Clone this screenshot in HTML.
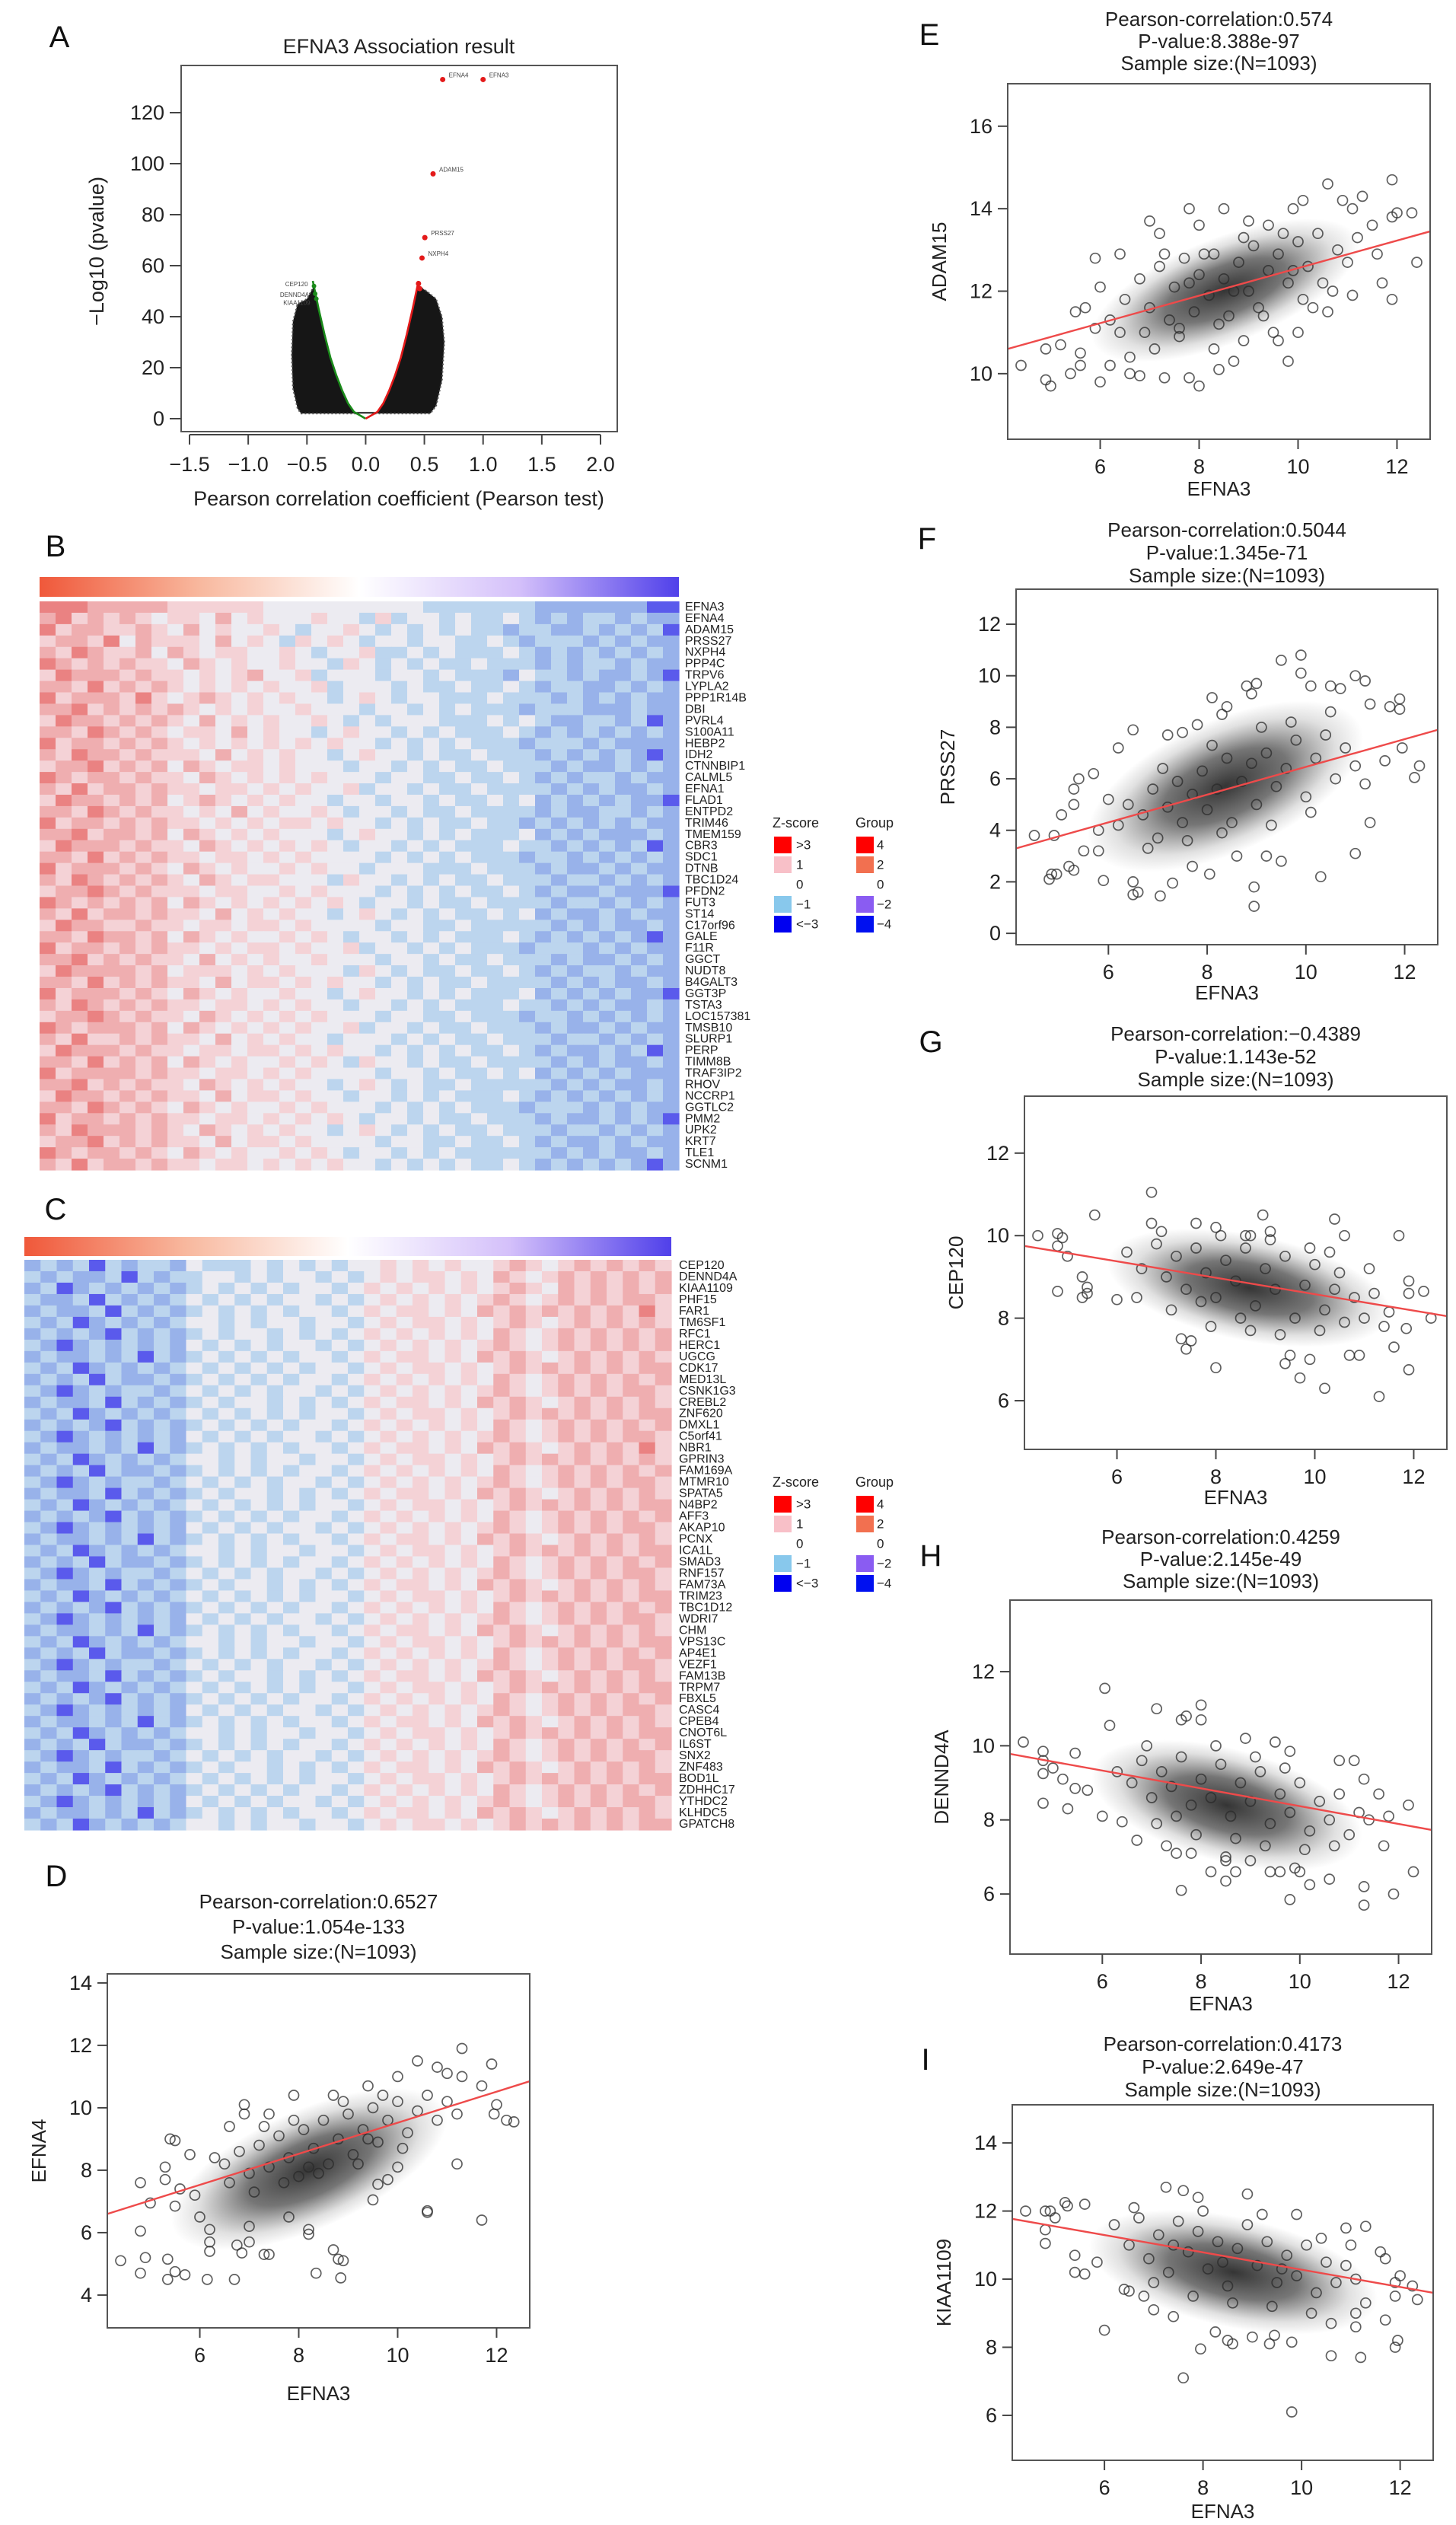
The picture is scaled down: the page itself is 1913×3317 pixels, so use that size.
<!DOCTYPE html>
<html><head><meta charset="utf-8">
<style>
html,body{margin:0;padding:0;background:#fff;}
svg{display:block;font-family:"Liberation Sans",Arial,sans-serif;}
</style></head>
<body>
<svg id="fig" width="1913" height="3317" viewBox="0 0 1913 3317" xmlns="http://www.w3.org/2000/svg">
<defs>
<radialGradient id="dens" cx="50%" cy="50%" r="50%">
<stop offset="0%" stop-color="#111" stop-opacity="0.85"/>
<stop offset="45%" stop-color="#1a1a1a" stop-opacity="0.6"/>
<stop offset="80%" stop-color="#333" stop-opacity="0.15"/>
<stop offset="100%" stop-color="#333" stop-opacity="0"/>
</radialGradient>
<linearGradient id="grpB" x1="0" x2="1" y1="0" y2="0">
<stop offset="0%" stop-color="#f0583a"/><stop offset="25%" stop-color="#f8b89e"/><stop offset="50%" stop-color="#ffffff"/><stop offset="75%" stop-color="#d4c0fa"/><stop offset="100%" stop-color="#5040ea"/>
</linearGradient>
</defs>
<g id="root"></g>
</svg>
<script>
// ---------- Panel A (volcano) data ----------
const V_XTICKS=[-1.5,-1.0,-0.5,0.0,0.5,1.0,1.5,2.0];
const V_YTICKS=[0,20,40,60,80,100,120];
const V_CURVE_R=[0.1,0.15,0.2,0.25,0.3,0.35,0.4,0.45];
const V_CURVE_P=[2.7,6,11,17,24,33,43,54];
const V_LEFT_OUTER=[[-0.44,52],[-0.5,47],[-0.58,45],[-0.62,38],[-0.63,25],[-0.62,12],[-0.58,4],[-0.55,2]];
const V_RIGHT_OUTER=[[0.45,52],[0.52,50],[0.6,47],[0.65,40],[0.67,30],[0.65,15],[0.6,5],[0.55,2]];
const V_RED_R=[0.656,1.0,0.574,0.504,0.48,0.45,0.46];
const V_RED_P=[133,133,96,71,63,53,51];
const V_RED_LBL=["EFNA4","EFNA3","ADAM15","PRSS27","NXPH4","",""];
const V_GREEN_R=[-0.44,-0.43,-0.42];
const V_GREEN_P=[52,49,47];
const V_GREEN_LBL=["CEP120","DENND4A","KIAA1109"];

// ---------- Heatmap data ----------
const B_GENES=["EFNA3","EFNA4","ADAM15","PRSS27","NXPH4","PPP4C","TRPV6","LYPLA2","PPP1R14B","DBI","PVRL4","S100A11","HEBP2","IDH2","CTNNBIP1","CALML5","EFNA1","FLAD1","ENTPD2","TRIM46","TMEM159","CBR3","SDC1","DTNB","TBC1D24","PFDN2","FUT3","ST14","C17orf96","GALE","F11R","GGCT","NUDT8","B4GALT3","GGT3P","TSTA3","LOC157381","TMSB10","SLURP1","PERP","TIMM8B","TRAF3IP2","RHOV","NCCRP1","GGTLC2","PMM2","UPK2","KRT7","TLE1","SCNM1"];
const B_ROWS=["7776666655555544444444443333333222222211","6756565455464544454435344343343232332322","7566556546454454344543434343323322323231","5665746555464543545434434433432333232322","6576556465455445434453343433343232323232","7656565546545445443543434334333232332322","5766656554545644534443443433324332322321","6657565654545454453444343343343233223232","7566657545654545443454344333433323232322","6675656565454544544434434343332333222322","5766565654645454454343444333434322332312","6657656545546454434544343433343232323232","7566565654545454545443434343332333232222","6576656555464545443454434334333232323212","5667565646545545444344343433433323223232","7656656554654545454443443343343232332322","6575665655455454544534434334333323232232","5766565645654545443443443433434232323221","6657656554546454454344343343333232233232","7566565655454545545443434334332323232322","6675665646545454443454434343334232322232","5766656554654545454344343433343323232312","6657565655455454544443434343332332323232","7566656546545445454434443334333232232322","6576565654654554443544343433433323323232","5667656555455445454443434343343232232221","7656565646545454545434434334333323323232","6575665655464545443454343433434232232322","5766556554554554544443443343333323232232","6657665646545445454344343433343232323212","7566565655454554544534434343332333232322","6675656554645454454443443433433323223232","5766665645554545444354343343343232332322","6657565655464554545443434334333323232232","7566656546545445443454434343334232323221","6576565655455454544344343433343323232232","5667656554654545454443443343332332323232","7656665646545454544534434334333232232322","6575565655464545443444343433433323323232","5766656554554554545443434343343232232312","6657565646545445454354434334333323232232","7566665655455454544443443433434232323222","6675656554654545443454343343333323232232","5766565655464554544344343433343232323232","6657656546545445454443434343332333232322","7566565655455454545434434334333232232321","6576665654654545443454343433433323323232","5667565655464554544443443343343232232322","7656656546545445454344343433333323232232","6575665655455454545443434343343232323212"];
const C_GENES=["CEP120","DENND4A","KIAA1109","PHF15","FAR1","TM6SF1","RFC1","HERC1","UGCG","CDK17","MED13L","CSNK1G3","CREBL2","ZNF620","DMXL1","C5orf41","NBR1","GPRIN3","FAM169A","MTMR10","SPATA5","N4BP2","AFF3","AKAP10","PCNX","ICA1L","SMAD3","RNF157","FAM73A","TRIM23","TBC1D12","WDRI7","CHM","VPS13C","AP4E1","VEZF1","FAM13B","TRPM7","FBXL5","CASC4","CPEB4","CNOT6L","IL6ST","SNX2","ZNF483","BOD1L","ZDHHC17","YTHDC2","KLHDC5","GPATCH8"];
const C_ROWS=["2323132332433343434344545454456545656565","3232231323344343443434545545465456565656","2312323232343434344345454545456546565656","3223132323434343443434545454565456565665","2322313232343434344345455454656565656575","3231232323443434434434545545456545656565","2323213232343443434345454545465456565656","3212323232434343443434545454565456565656","2322323132343434344345455454656545656565","3231232323434343434434545545456565656566","2323132232343434344345454545465456565656","3212323323434343443434545454565456565665","2322313232343443434345455454656545656565","3231232323434343434434545545456565656566","2323213232343434344345454545465456565656","3212323232434343443434545454565456565665","2322323132343434344345455454656545656575","3231232323443434434434545545456565656565","2323132232343434344345454545465456565656","3212323323434343443434545454565456565665","2322313232343443434345455454656545656565","3231232323434343434434545545456565656566","2323213232343434344345454545465456565656","3212323232434343443434545454565456565665","2322323132343434344345455454656545656565","3231232323443434434434545545456565656566","2323132232343434344345454545465456565656","3212323323434343443434545454565456565665","2322313232343443434345455454656545656565","3231232323434343434434545545456565656566","2323213232343434344345454545465456565656","3212323232434343443434545454565456565665","2322323132343434344345455454656545656565","3231232323443434434434545545456565656566","2323132232343434344345454545465456565656","3212323323434343443434545454565456565665","2322313232343443434345455454656545656565","3231232323434343434434545545456565656566","2323213232343434344345454545465456565656","3212323232434343443434545454565456565665","2322323132343434344345455454656545656565","3231232323443434434434545545456565656566","2323132232343434344345454545465456565656","3212323323434343443434545454565456565665","2322313232343443434345455454656545656565","3231232323434343434434545545456565656566","2323213232343434344345454545465456565656","3212323232434343443434545454565456565665","2322323132343434344345455454656545656565","3231232323443434434434545545456565656566"];
const Z_LEGEND=[">3","1","0","\u22121","<\u22123"];
const G_LEGEND=["4","2","0","\u22122","\u22124"];

// ---------- Scatter data ----------
const X_TICKS=[6,8,10,12];
const D_PTS=[[4.4,5.1],[4.8,7.6],[4.8,6.05],[4.8,4.7],[4.9,5.2],[5.0,6.95],[5.3,8.1],[5.3,7.7],[5.35,5.15],[5.4,9.0],[5.5,8.95],[5.35,4.5],[5.5,4.75],[5.7,4.65],[5.5,6.85],[5.6,7.4],[6.0,6.5],[6.2,6.1],[6.2,5.7],[6.2,5.4],[6.15,4.5],[6.7,4.5],[6.75,5.6],[6.85,5.35],[6.9,10.1],[6.9,9.8],[7.0,5.7],[7.0,6.2],[7.3,5.3],[7.4,5.3],[7.8,6.5],[8.2,6.1],[8.2,5.95],[8.35,4.7],[8.7,5.45],[8.8,5.15],[8.85,4.55],[8.9,5.1],[9.5,7.05],[9.6,7.55],[9.8,7.7],[10.6,6.65],[10.6,6.7],[11.2,8.2],[11.7,6.4],[10.0,8.1],[11.3,11.9],[11.9,11.4],[10.4,11.5],[10.0,11.0],[10.8,11.3],[11.0,11.1],[11.3,11.0],[12.2,9.6],[12.35,9.55],[11.95,9.8],[12.0,10.1],[11.7,10.7],[9.4,10.7],[8.7,10.4],[7.9,10.4],[7.4,9.8],[6.6,9.4],[6.3,8.4],[5.8,8.5],[5.9,7.2],[6.5,8.2],[6.8,8.6],[7.0,7.9],[7.2,8.8],[7.4,8.1],[7.6,9.1],[7.8,8.4],[8.0,7.8],[8.1,9.3],[8.3,8.7],[8.5,9.6],[8.6,8.2],[8.8,9.0],[9.0,9.8],[9.1,8.5],[9.3,9.3],[9.5,10.0],[9.6,8.9],[9.8,9.6],[10.0,10.2],[10.2,9.2],[10.4,9.9],[10.6,10.4],[10.8,9.6],[11.0,10.2],[11.2,9.8],[7.1,7.3],[7.7,7.6],[8.4,7.9],[9.2,8.2],[6.6,7.6],[7.9,9.6],[8.9,10.2],[10.1,8.7],[9.7,10.4],[7.3,9.4],[8.2,8.1],[9.4,9.0]];
const D_FIT=[6.6,10.85];
const D_YTICKS=[4,6,8,10,12,14];
const E_PTS=[[4.4,10.2],[4.9,10.6],[4.9,9.85],[5.0,9.7],[5.2,10.7],[5.4,10.0],[5.5,11.5],[5.6,10.5],[5.6,10.2],[5.7,11.6],[5.9,11.1],[6.0,9.8],[6.0,12.1],[5.9,12.8],[6.2,10.2],[6.4,12.9],[6.6,10.0],[6.8,9.95],[7.0,13.7],[7.3,9.9],[7.2,13.4],[7.8,14.0],[7.8,9.9],[8.0,9.7],[8.0,13.6],[8.5,14.0],[8.4,10.1],[8.7,10.3],[9.0,13.7],[9.4,13.6],[9.7,13.4],[9.8,10.3],[9.9,14.0],[10.0,11.0],[10.1,14.2],[10.6,14.6],[10.6,11.5],[10.9,14.2],[11.1,14.0],[11.3,14.3],[11.5,13.6],[11.6,12.9],[11.7,12.2],[11.9,14.7],[11.9,11.8],[11.9,13.8],[12.0,13.9],[12.3,13.9],[12.4,12.7],[11.1,11.9],[10.7,12.0],[10.3,11.6],[9.5,11.0],[9.6,10.8],[8.9,10.8],[8.3,10.6],[7.6,10.9],[6.6,10.4],[7.1,10.6],[6.5,11.8],[6.8,12.3],[7.0,11.6],[7.2,12.6],[7.4,11.3],[7.5,12.1],[7.7,12.8],[7.9,11.5],[8.0,12.4],[8.2,11.9],[8.3,12.9],[8.5,12.3],[8.6,11.4],[8.8,12.7],[9.0,12.0],[9.1,13.1],[9.2,11.6],[9.4,12.5],[9.6,12.9],[9.8,12.2],[10.0,13.2],[10.2,12.6],[10.4,13.4],[10.5,12.2],[10.8,13.0],[11.0,12.7],[11.2,13.3],[6.9,11.0],[7.6,11.1],[8.4,11.2],[9.3,11.4],[7.3,12.9],[8.9,13.3],[6.2,11.3],[6.4,11.0],[10.1,11.8],[9.9,12.5],[8.1,12.9],[7.8,12.2],[8.7,12.0]];
const E_FIT=[10.6,13.45];
const E_YTICKS=[10,12,14,16];
const F_PTS=[[4.5,3.8],[4.9,3.8],[4.8,2.1],[4.85,2.3],[4.95,2.3],[5.2,2.6],[5.3,2.45],[5.05,4.6],[5.3,5.0],[5.4,6.0],[5.3,5.6],[5.7,6.2],[5.5,3.2],[5.8,3.2],[5.9,2.05],[6.5,1.5],[6.6,1.6],[6.5,2.0],[7.05,1.45],[7.3,1.95],[6.5,7.9],[6.2,7.2],[7.2,7.7],[7.5,7.8],[7.8,8.1],[8.1,9.15],[8.3,8.5],[8.4,8.8],[8.8,9.6],[9.0,9.7],[8.9,9.3],[9.5,10.6],[9.9,10.8],[9.9,10.1],[10.1,9.6],[10.5,9.6],[10.7,9.5],[11.0,10.0],[11.2,9.8],[11.3,8.9],[11.7,8.8],[11.9,9.1],[11.9,8.7],[12.3,6.5],[12.2,6.05],[11.95,7.2],[11.6,6.7],[11.3,4.3],[11.0,3.1],[10.3,2.2],[9.5,2.8],[8.95,1.8],[8.95,1.05],[8.05,2.3],[7.7,2.6],[8.6,3.0],[9.2,3.0],[6.2,4.2],[6.4,5.0],[6.7,4.6],[6.9,5.6],[7.0,3.7],[7.2,4.9],[7.4,5.9],[7.5,4.3],[7.7,5.4],[7.9,6.3],[8.0,4.8],[8.2,5.6],[8.4,6.8],[8.5,4.3],[8.7,5.9],[8.9,6.6],[9.0,5.0],[9.2,7.0],[9.4,5.7],[9.6,6.4],[9.8,7.5],[10.0,5.3],[10.2,6.8],[10.4,7.7],[10.6,6.0],[10.8,7.2],[11.0,6.5],[11.2,5.8],[6.8,3.3],[7.6,3.6],[8.3,3.9],[9.3,4.2],[10.1,4.7],[7.1,6.4],[8.1,7.3],[9.7,8.2],[10.5,8.6],[6.0,5.2],[5.8,4.0],[9.1,8.0]];
const F_FIT=[3.3,7.9];
const F_YTICKS=[0,2,4,6,8,10,12];
const G_PTS=[[4.4,10.0],[4.8,10.05],[4.9,9.95],[4.8,9.75],[5.0,9.5],[4.8,8.65],[5.3,8.5],[5.4,8.6],[5.4,8.75],[5.3,9.0],[5.55,10.5],[6.0,8.45],[6.7,11.05],[6.7,10.3],[7.6,10.3],[7.3,7.5],[7.4,7.25],[7.5,7.45],[8.0,6.8],[8.0,10.2],[8.6,10.0],[8.7,10.0],[8.95,10.5],[9.1,10.1],[9.4,6.9],[9.5,7.1],[9.7,6.55],[9.9,7.0],[10.2,6.3],[10.4,10.4],[10.6,10.0],[10.7,7.1],[10.9,7.1],[11.3,6.1],[11.7,10.0],[11.6,7.3],[11.9,6.75],[11.85,7.75],[11.9,8.6],[11.9,8.9],[12.2,8.65],[12.35,8.0],[11.5,8.15],[11.1,9.2],[10.3,9.6],[6.4,8.5],[6.2,9.6],[6.5,9.2],[6.8,9.8],[7.0,9.0],[7.2,9.5],[7.4,8.7],[7.6,9.7],[7.8,9.1],[8.0,8.5],[8.2,9.4],[8.4,8.9],[8.6,9.7],[8.8,8.3],[9.0,9.2],[9.2,8.7],[9.4,9.5],[9.6,8.0],[9.8,8.8],[10.0,9.3],[10.2,8.2],[10.4,8.7],[10.6,7.9],[10.8,8.5],[11.0,8.0],[11.2,8.6],[7.1,8.2],[7.9,7.8],[8.7,7.7],[9.3,7.6],[10.1,7.7],[6.9,10.1],[8.1,10.0],[9.1,9.9],[8.5,8.0],[7.7,8.4],[9.9,9.7],[10.5,9.1],[11.4,7.8]];
const G_FIT=[9.75,8.05];
const G_YTICKS=[6,8,10,12];
const H_PTS=[[4.4,10.1],[4.8,9.85],[4.8,9.6],[4.8,9.25],[4.8,8.45],[5.0,9.4],[5.2,9.1],[5.3,8.3],[5.45,8.85],[5.45,9.8],[5.7,8.8],[6.0,8.1],[6.05,11.55],[6.15,10.55],[6.4,7.95],[6.7,7.45],[7.1,11.0],[7.6,10.7],[7.7,10.8],[8.0,11.1],[8.0,10.7],[7.6,6.1],[7.3,7.3],[7.5,7.1],[7.8,7.1],[8.2,6.6],[8.5,6.35],[8.7,6.6],[8.5,6.9],[9.0,6.9],[9.4,6.6],[9.6,6.6],[9.8,5.85],[9.9,6.7],[10.0,6.6],[10.2,6.25],[10.6,6.4],[11.3,6.2],[11.3,5.7],[11.9,6.0],[12.3,6.6],[12.2,8.4],[11.8,8.1],[11.7,7.3],[11.6,8.7],[11.3,9.1],[11.1,9.6],[10.8,9.6],[9.8,9.85],[9.5,10.1],[8.9,10.2],[6.3,9.3],[6.6,9.0],[6.8,9.6],[7.0,8.6],[7.2,9.3],[7.4,8.9],[7.6,9.7],[7.8,8.4],[8.0,9.1],[8.2,8.6],[8.4,9.5],[8.6,8.1],[8.8,9.0],[9.0,8.5],[9.2,9.3],[9.4,7.9],[9.6,8.7],[9.8,8.2],[10.0,9.0],[10.2,7.7],[10.4,8.5],[10.6,8.0],[10.8,8.7],[11.0,7.6],[11.2,8.2],[7.1,7.9],[7.9,7.6],[8.7,7.5],[9.3,7.3],[10.1,7.2],[6.9,10.0],[8.3,10.0],[9.1,9.7],[7.5,8.1],[8.5,7.0],[10.7,7.3],[9.7,9.4],[11.4,8.0]];
const H_FIT=[9.78,7.73];
const H_YTICKS=[6,8,10,12];
const I_PTS=[[4.4,12.0],[4.8,12.0],[4.9,12.0],[4.8,11.45],[4.8,11.05],[5.0,11.8],[5.2,12.25],[5.25,12.15],[5.4,10.7],[5.4,10.2],[5.6,10.15],[5.6,12.2],[5.85,10.5],[6.0,8.5],[6.4,9.7],[6.5,9.65],[6.8,9.5],[7.0,9.1],[7.25,12.7],[7.4,8.9],[7.6,12.6],[7.9,12.4],[7.6,7.1],[7.95,7.95],[8.25,8.45],[8.5,8.2],[8.6,8.1],[8.9,12.5],[9.0,8.3],[9.35,8.1],[9.45,8.35],[9.8,8.15],[9.8,6.1],[9.9,11.9],[10.6,7.75],[10.6,8.7],[11.1,8.6],[11.2,7.7],[11.1,9.0],[11.3,11.55],[10.9,11.5],[11.6,10.8],[11.7,10.6],[11.7,8.8],[11.9,8.0],[11.95,8.2],[11.9,9.5],[11.9,9.9],[12.25,9.8],[12.35,9.4],[12.0,10.1],[11.3,9.3],[6.2,11.6],[6.5,11.0],[6.7,11.8],[6.9,10.6],[7.1,11.3],[7.3,10.2],[7.5,11.7],[7.7,10.8],[7.9,11.4],[8.1,10.3],[8.3,11.1],[8.5,9.8],[8.7,10.9],[8.9,11.6],[9.1,10.4],[9.3,11.1],[9.5,9.9],[9.7,10.7],[9.9,10.1],[10.1,11.0],[10.3,9.6],[10.5,10.5],[10.7,9.9],[10.9,10.4],[11.1,10.0],[7.0,9.9],[7.8,9.5],[8.6,9.3],[9.4,9.2],[10.2,9.0],[6.6,12.1],[8.0,12.0],[9.2,11.9],[7.4,11.0],[8.4,10.5],[10.4,11.2],[9.6,10.3],[11.0,11.0]];
const I_FIT=[11.77,9.6];
const I_YTICKS=[6,8,10,12,14];

const NS="http://www.w3.org/2000/svg";
const root=document.getElementById('root');
function mk(tag,attrs,parent){const e=document.createElementNS(NS,tag);for(const k in attrs)e.setAttribute(k,attrs[k]);(parent||root).appendChild(e);return e;}
function txt(s,attrs,parent){const e=mk('text',attrs,parent);e.textContent=s;return e;}
const XDOM=[4.13,12.67];

// ---------- Panel letters ----------
const LETTERS=[["A",78,49],["B",73,718],["C",73,1589],["D",74,2465],["E",1221,46],["F",1218,708],["G",1223,1369],["H",1223,2044],["I",1216,2706]];
LETTERS.forEach(L=>{
  const t=txt(L[0],{x:L[1],y:L[2],'font-size':40,'text-anchor':'middle','dominant-baseline':'central',fill:'#111'});
  
  
});

// ---------- Panel A ----------
(function(){
  const g=mk('g',{});
  
  
  const box={l:238,r:811,t:86,b:567};
  const xs=v=>249+(v+1.5)*(789-249)/3.5;
  const ys=v=>550-v*(550-148)/120;
  const fr=mk('rect',{x:box.l,y:box.t,width:box.r-box.l,height:box.b-box.t,fill:'none',stroke:'#555','stroke-width':2},g);
  
  
  const tt=txt("EFNA3 Association result",{x:524,y:61,'font-size':27,'text-anchor':'middle','dominant-baseline':'central',fill:'#222'},g);
  
  
  V_YTICKS.forEach(v=>{
    const l=mk('line',{x1:box.l-15,x2:box.l,y1:ys(v),y2:ys(v),stroke:'#444','stroke-width':2},g);
    
    
    const t=txt(String(v),{x:box.l-22,y:ys(v),'font-size':27,'text-anchor':'end','dominant-baseline':'central',fill:'#222'},g);
    
    
  });
  const al=mk('line',{x1:xs(-1.5),x2:xs(2.0),y1:571,y2:571,stroke:'#444','stroke-width':2},g);
  
  
  V_XTICKS.forEach(v=>{
    const l=mk('line',{x1:xs(v),x2:xs(v),y1:571,y2:584,stroke:'#444','stroke-width':2},g);
    
    
    const t=txt((v<0?'\u2212':'')+Math.abs(v).toFixed(1),{x:xs(v),y:610,'font-size':27,'text-anchor':'middle','dominant-baseline':'central',fill:'#222'},g);
    
    
  });
  const xl=txt("Pearson correlation coefficient (Pearson test)",{x:524,y:655,'font-size':27,'text-anchor':'middle','dominant-baseline':'central',fill:'#222'},g);
  
  
  const yl=txt("\u2212Log10 (pvalue)",{x:0,y:0,'font-size':27,'text-anchor':'middle','dominant-baseline':'central',fill:'#222',transform:'translate(127,330) rotate(-90)'},g);
  
  
  function massPoly(outer,sign){
    const pts=outer.map(p=>[p[0],p[1]]);
    pts.push([sign*0.085,2]);
    V_CURVE_R.forEach((r,i)=>pts.push([sign*r,V_CURVE_P[i]]));
    return pts.map(p=>xs(p[0]).toFixed(1)+','+ys(p[1]).toFixed(1)).join(' ');
  }
  const ml=mk('polygon',{points:massPoly(V_LEFT_OUTER,-1),fill:'#161616',stroke:'#555','stroke-width':2,'stroke-dasharray':'2 3'},g);
  
  
  const mr=mk('polygon',{points:massPoly(V_RIGHT_OUTER,1),fill:'#161616',stroke:'#555','stroke-width':2,'stroke-dasharray':'2 3'},g);
  
  
  const strip=mk('rect',{x:xs(-0.09),y:ys(2.6),width:xs(0.09)-xs(-0.09),height:ys(2)-ys(2.6),fill:'#161616'},g);
  
  
  const curve=(sign,col,name)=>{
    const pts=[[0,0]].concat(V_CURVE_R.map((r,i)=>[sign*r,V_CURVE_P[i]]));
    const d=pts.map((p,i)=>(i?'L':'M')+xs(p[0]).toFixed(1)+','+ys(p[1]).toFixed(1)).join('');
    const p=mk('path',{d:d,fill:'none',stroke:col,'stroke-width':2.6},g);
    
    
  };
  curve(-1,'#1a8a1a','negative-significance-curve');
  curve(1,'#e41a1a','positive-significance-curve');
  V_RED_R.forEach((r,i)=>{
    const c=mk('circle',{cx:xs(r),cy:ys(V_RED_P[i]),r:3.5,fill:'#e41a1a'},g);
    
    
    if(V_RED_LBL[i]){
      const t=txt(V_RED_LBL[i],{x:xs(r)+8,y:ys(V_RED_P[i])-3,'font-size':8,fill:'#444'},g);
      
      
    }
  });
  V_GREEN_R.forEach((r,i)=>{
    const c=mk('circle',{cx:xs(r),cy:ys(V_GREEN_P[i]),r:3,fill:'#1a8a1a'},g);
    
    
    const t=txt(V_GREEN_LBL[i],{x:xs(r)-8,y:ys(V_GREEN_P[i])+(i*4),'font-size':8,'text-anchor':'end',fill:'#444'},g);
    
    
  });
})();

// ---------- Heatmaps ----------
const HCOL={"1":"#5a5aec","2":"#98b2ea","3":"#bcd5ee","4":"#ecebf1","5":"#f4d2d6","6":"#efaeb0","7":"#ea8282"};
function heatmap(name,rows,genes,x0,x1,barT,barB,hT,hB,labX,legT){
  const g=mk('g',{});
  
  
  const bar=mk('rect',{x:x0,y:barT,width:x1-x0,height:barB-barT,fill:'url(#grpB)'},g);
  
  
  const rh=(hB-hT)/rows.length;
  rows.forEach((row,ri)=>{
    const cw=(x1-x0)/row.length;
    for(let ci=0;ci<row.length;ci++){
      const c=mk('rect',{x:(x0+ci*cw).toFixed(2),y:(hT+ri*rh).toFixed(2),width:(cw+0.6).toFixed(2),height:(rh+0.6).toFixed(2),fill:HCOL[row[ci]]},g);
      
      
    }
  });
  genes.forEach((gn,i)=>{
    const t=txt(gn,{x:labX,y:hT+(i+0.5)*rh,'font-size':16,'dominant-baseline':'central',fill:'#222'},g);
    
    
  });
  const zt=txt("Z-score",{x:1015,y:legT,'font-size':18,'dominant-baseline':'central',fill:'#222'},g);
  
  
  const gt=txt("Group",{x:1124,y:legT,'font-size':18,'dominant-baseline':'central',fill:'#222'},g);
  
  
  const zc=["#ff0000","#f8c0c8",null,"#88c8ec","#0000f0"];
  const gc=["#ff0000","#f27050",null,"#8a5cf2","#0010f0"];
  for(let i=0;i<5;i++){
    const cy=legT+29+i*26;
    if(zc[i]){const s=mk('rect',{x:1017,y:cy-11,width:23,height:22,fill:zc[i]},g);
      
      }
    const a=txt(Z_LEGEND[i],{x:1046,y:cy,'font-size':17,'dominant-baseline':'central',fill:'#222'},g);
    
    
    if(gc[i]){const s2=mk('rect',{x:1125,y:cy-11,width:23,height:22,fill:gc[i]},g);
      
      }
    const b=txt(G_LEGEND[i],{x:1152,y:cy,'font-size':17,'dominant-baseline':'central',fill:'#222'},g);
    
    
  }
}
heatmap('heatmap-positive',B_ROWS,B_GENES,52,892,758,784,790,1537,900,1081);
heatmap('heatmap-negative',C_ROWS,C_GENES,32,882,1625,1650,1655,2404,892,1947);

// ---------- Scatter ----------
function scatter(cfg){
  const g=mk('g',{});
  
  
  const b=cfg.box;
  const xs=v=>b.l+(v-XDOM[0])/(XDOM[1]-XDOM[0])*(b.r-b.l);
  const ys=v=>b.b-(v-cfg.ydom[0])/(cfg.ydom[1]-cfg.ydom[0])*(b.b-b.t);
  const cx=(b.l+b.r)/2;
  cfg.title.forEach((s,i)=>{
    const t=txt(s,{x:cx,y:cfg.titleY+i*cfg.titleGap,'font-size':26,'text-anchor':'middle','dominant-baseline':'central',fill:'#222'},g);
    
    
  });
  const clipId='clip-'+cfg.name;
  const cp=mk('clipPath',{id:clipId},g);
  mk('rect',{x:b.l,y:b.t,width:b.r-b.l,height:b.b-b.t},cp);
  const pg=mk('g',{'clip-path':'url(#'+clipId+')'},g);
  
  
  const px=cfg.pts.map(p=>xs(p[0])), py=cfg.pts.map(p=>ys(p[1]));
  const n=px.length; const mx=px.reduce((a,c)=>a+c,0)/n, my=py.reduce((a,c)=>a+c,0)/n;
  let sxx=0,syy=0,sxy=0;for(let i=0;i<n;i++){sxx+=(px[i]-mx)**2;syy+=(py[i]-my)**2;sxy+=(px[i]-mx)*(py[i]-my);}
  sxx/=n;syy/=n;sxy/=n;
  const ang=0.5*Math.atan2(2*sxy,sxx-syy);
  const m=(sxx+syy)/2, d=Math.sqrt(((sxx-syy)/2)**2+sxy**2);
  const el=mk('ellipse',{cx:mx,cy:my,rx:1.35*Math.sqrt(m+d),ry:1.25*Math.sqrt(Math.max(m-d,1)),fill:'url(#dens)',transform:'rotate('+(ang*180/Math.PI)+' '+mx+' '+my+')'},pg);
  
  
  cfg.pts.forEach(p=>{
    const c=mk('circle',{cx:xs(p[0]).toFixed(1),cy:ys(p[1]).toFixed(1),r:6.5,fill:'none',stroke:'#2a2a2a','stroke-width':1.7,'stroke-opacity':0.75},pg);
    
    
  });
  const fl=mk('line',{x1:xs(XDOM[0]),y1:ys(cfg.fit[0]),x2:xs(XDOM[1]),y2:ys(cfg.fit[1]),stroke:'#ee4a4a','stroke-width':2.4},pg);
  
  
  const fr=mk('rect',{x:b.l,y:b.t,width:b.r-b.l,height:b.b-b.t,fill:'none',stroke:'#555','stroke-width':2},g);
  
  
  cfg.yticks.forEach(v=>{
    const l=mk('line',{x1:b.l-13,x2:b.l,y1:ys(v),y2:ys(v),stroke:'#444','stroke-width':2},g);
    
    
    const t=txt(String(v),{x:b.l-20,y:ys(v),'font-size':27,'text-anchor':'end','dominant-baseline':'central',fill:'#222'},g);
    
    
  });
  X_TICKS.forEach(v=>{
    const l=mk('line',{x1:xs(v),x2:xs(v),y1:b.b,y2:b.b+13,stroke:'#444','stroke-width':2},g);
    
    
    const t=txt(String(v),{x:xs(v),y:b.b+36,'font-size':27,'text-anchor':'middle','dominant-baseline':'central',fill:'#222'},g);
    
    
  });
  const xl=txt("EFNA3",{x:cx,y:cfg.xlabY,'font-size':26,'text-anchor':'middle','dominant-baseline':'central',fill:'#222'},g);
  
  
  const yl=txt(cfg.ylab,{x:0,y:0,'font-size':26,'text-anchor':'middle','dominant-baseline':'central',fill:'#222',transform:'translate('+(b.l-90)+','+((b.t+b.b)/2)+') rotate(-90)'},g);
  
  
}
scatter({name:'scatter-efna4',box:{l:141,r:696,t:2593,b:3058},ydom:[2.95,14.29],pts:D_PTS,fit:D_FIT,yticks:D_YTICKS,ylab:'EFNA4',xlabY:3144,titleY:2498,titleGap:33,title:['Pearson-correlation:0.6527','P-value:1.054e-133','Sample size:(N=1093)']});
scatter({name:'scatter-adam15',box:{l:1324,r:1879,t:110,b:577},ydom:[8.41,17.03],pts:E_PTS,fit:E_FIT,yticks:E_YTICKS,ylab:'ADAM15',xlabY:642,titleY:25,titleGap:29,title:['Pearson-correlation:0.574','P-value:8.388e-97','Sample size:(N=1093)']});
scatter({name:'scatter-prss27',box:{l:1335,r:1889,t:774,b:1241},ydom:[-0.44,13.36],pts:F_PTS,fit:F_FIT,yticks:F_YTICKS,ylab:'PRSS27',xlabY:1304,titleY:696,titleGap:30,title:['Pearson-correlation:0.5044','P-value:1.345e-71','Sample size:(N=1093)']});
scatter({name:'scatter-cep120',box:{l:1346,r:1901,t:1440,b:1904},ydom:[4.82,13.38],pts:G_PTS,fit:G_FIT,yticks:G_YTICKS,ylab:'CEP120',xlabY:1967,titleY:1358,titleGap:30,title:['Pearson-correlation:\u22120.4389','P-value:1.143e-52','Sample size:(N=1093)']});
scatter({name:'scatter-dennd4a',box:{l:1327,r:1881,t:2102,b:2567},ydom:[4.38,13.93],pts:H_PTS,fit:H_FIT,yticks:H_YTICKS,ylab:'DENND4A',xlabY:2632,titleY:2019,titleGap:29,title:['Pearson-correlation:0.4259','P-value:2.145e-49','Sample size:(N=1093)']});
scatter({name:'scatter-kiaa1109',box:{l:1330,r:1883,t:2765,b:3232},ydom:[4.68,15.12],pts:I_PTS,fit:I_FIT,yticks:I_YTICKS,ylab:'KIAA1109',xlabY:3299,titleY:2685,titleGap:30,title:['Pearson-correlation:0.4173','P-value:2.649e-47','Sample size:(N=1093)']});
</script>
</body></html>
